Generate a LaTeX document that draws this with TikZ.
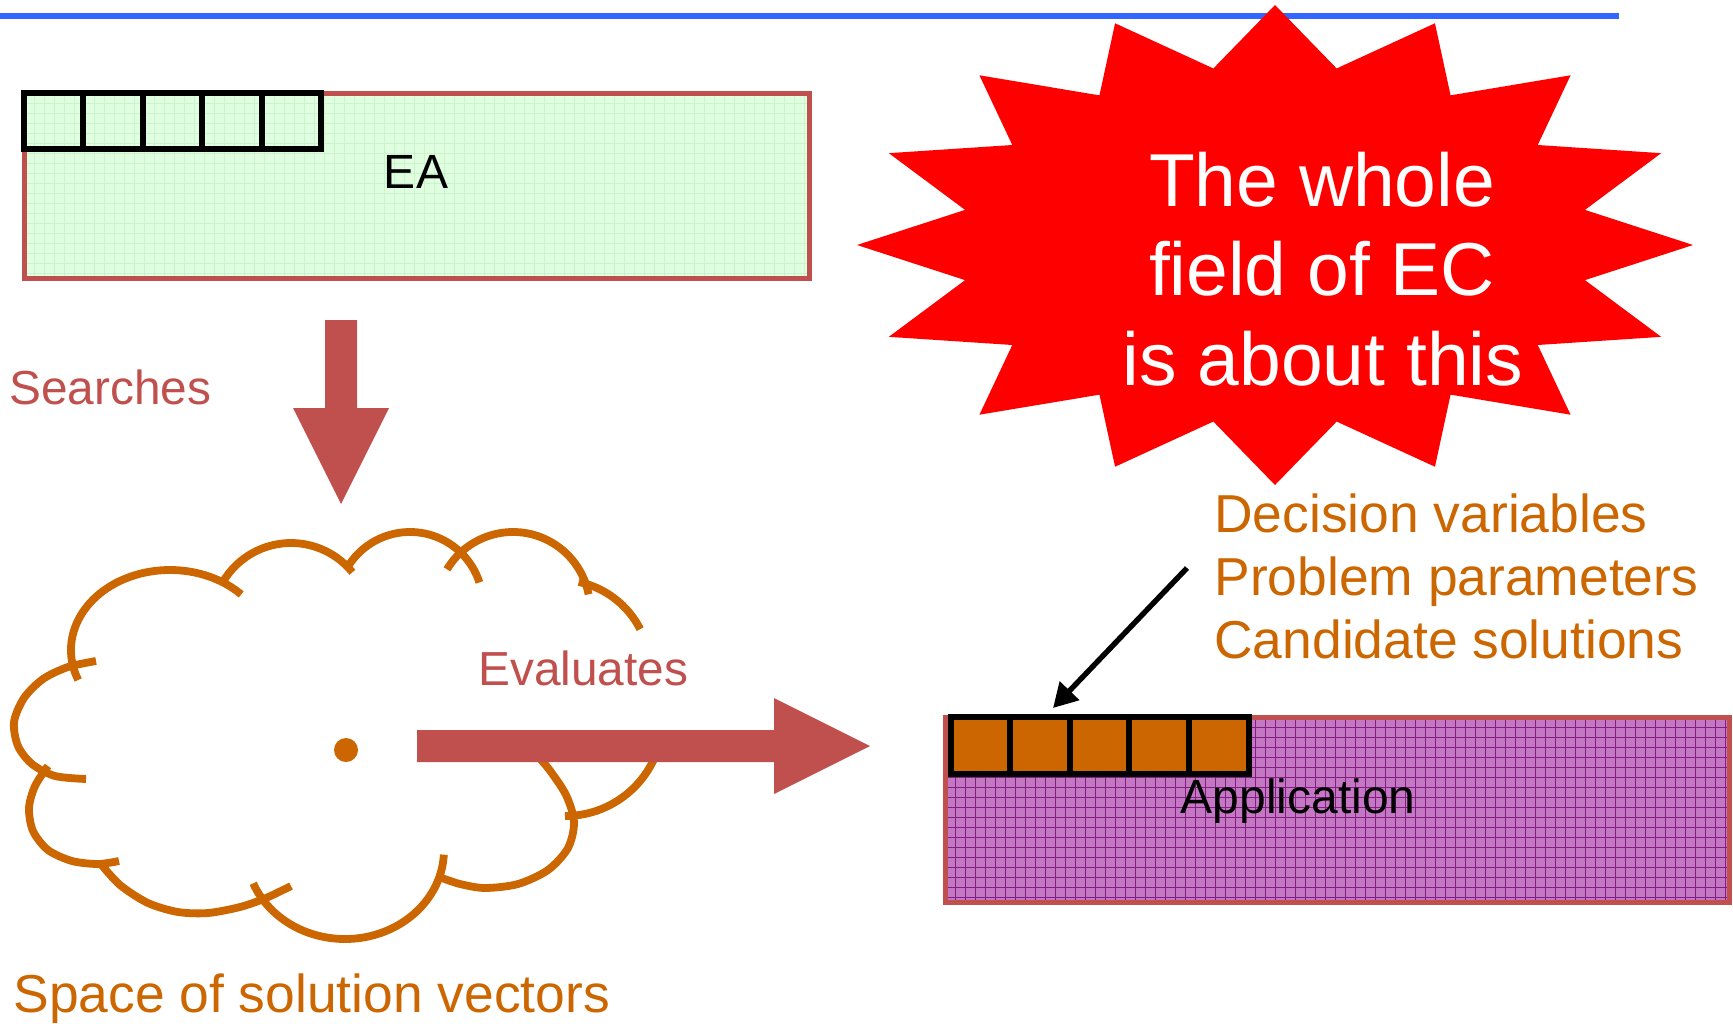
\documentclass[tikz,border=0pt]{standalone}
\usepackage{fontspec}
\setmainfont{Liberation Sans}
\usetikzlibrary{arrows.meta}
\definecolor{rulecol}{RGB}{51,102,255}
\definecolor{brick}{RGB}{192,80,77}
\definecolor{rust}{RGB}{204,102,0}
\definecolor{mint}{RGB}{224,255,224}
\definecolor{mintline}{RGB}{204,244,204}
\definecolor{orchid}{RGB}{196,120,196}
\definecolor{orchidline}{RGB}{130,30,130}
\definecolor{burst}{RGB}{255,0,0}
\tikzset{
  label font/.style={inner sep=0pt, font=\fontsize{#1}{#1}\selectfont},
  redtext/.style={label font=23.9pt, text=brick},
  rusttext/.style={label font=26.7pt, text=rust},
  boxtext/.style={label font=24pt, text=black},
  bursttext/.style={label font=37.5pt, text=white},
  blockarrow/.style={fill=brick},
  framebox/.style={draw=brick, line width=2.5pt},
  cellbox/.style={draw=black, line width=3pt},
  cloudline/.style={draw=rust, line width=3.9pt, line cap=butt},
  pointer/.style={draw=black, line width=2.7pt, -{Triangle[length=12pt,width=13pt]}},
}
% one lobe of the cloud: centre, x radius, y radius, start and end angle
\newcommand\cloudlobe[5]{%
  \draw[cloudline] (#1) ++(#4:#2 and #3)
    arc[start angle=#4, end angle=#5, x radius=#2, y radius=#3];}
\begin{document}
\begin{tikzpicture}[x=0.5pt, y=-0.5pt, line join=miter]
\useasboundingbox (0,0) rectangle (1733,1023);

% top rule
\draw[rulecol, line width=2.7pt] (0,16) -- (1619,16);

% ---- EA box with its five-cell chromosome
\fill[mint] (24,93) rectangle (809,278);
\begin{scope}
  \clip (24,93) rectangle (809,278);
  \foreach \gx in {24,34,...,814} \draw[mintline, line width=0.5pt] (\gx,93) -- (\gx,278);
  \foreach \gy in {93,103,...,283} \draw[mintline, line width=0.5pt] (24,\gy) -- (809,\gy);
\end{scope}
\draw[framebox] (24,93) rectangle (809,278);
\foreach \i in {0,...,4}
  \draw[cellbox] ({24+\i*59.4},93) rectangle ({24+(\i+1)*59.4},149);
\node[boxtext] (ea) at (416,172) {EA};

% ---- "Searches" block arrow
\fill[blockarrow] (325,320) -- (357,320) -- (357,408) -- (389,408)
  -- (341,504) -- (293,408) -- (325,408) -- cycle;
\node[redtext, anchor=base west] (searches) at (9,404) {Searches};

% ---- cloud: space of solution vectors
\cloudlobe{170,650}{49.5pt}{40pt}{202}{44}
\cloudlobe{291,622}{39.5pt}{39.5pt}{149}{39}
\cloudlobe{410,605}{36.5pt}{36.5pt}{148}{18}
\cloudlobe{513,609}{38.5pt}{38.5pt}{149}{11}
\cloudlobe{560,670}{45pt}{45pt}{78}{27}
\cloudlobe{565,718}{49pt}{49pt}{-15}{-90}
\cloudlobe{345,850}{49.5pt}{44.5pt}{-3}{-158}
\draw[cloudline] plot[smooth] coordinates {(530,748) (548,768) (566,795) (574,822) (568,848) (548,870) (518,884) (485,888) (460,884) (442,878)};
\draw[cloudline] plot[smooth] coordinates {(100,863) (120,885) (148,903) (178,912) (208,913) (240,907) (266,898) (291,886)};
\draw[cloudline] plot[smooth] coordinates {(48,766) (35,786) (29,808) (33,831) (48,850) (72,861) (98,864) (119,861)};
\draw[cloudline] plot[smooth] coordinates {(96,661) (68,667) (43,679) (24,698) (14,722) (18,746) (32,764) (55,776) (86,779)};
\fill[rust] (346,750) circle[radius=6pt];
\node[rusttext, anchor=base west] (space) at (13,1012) {Space of solution vectors};

% ---- "Evaluates" block arrow
\fill[blockarrow] (417,730) -- (774,730) -- (774,698) -- (870,746)
  -- (774,794) -- (774,762) -- (417,762) -- cycle;
\node[redtext, anchor=base west] (evaluates) at (478,685) {Evaluates};

% ---- application box with its chromosome
\fill[orchid] (945,717) rectangle (1729,902);
\begin{scope}
  \clip (945,717) rectangle (1729,902);
  \foreach \gx in {945,955,...,1735} \draw[orchidline, line width=0.4pt] (\gx,717) -- (\gx,902);
  \foreach \gy in {717,727,...,907} \draw[orchidline, line width=0.4pt] (945,\gy) -- (1729,\gy);
\end{scope}
\draw[framebox] (945,717) rectangle (1729,902);
\foreach \i in {0,...,4}
  \draw[cellbox, fill=rust] ({950.5+\i*59.6},716.5) rectangle ({950.5+(\i+1)*59.6},773.5);
\node[boxtext, anchor=base] (application) at (1298,813) {Application};

% ---- labels of the chromosome and the pointer to it
\node[rusttext, anchor=base west] (decision) at (1214,532) {Decision variables};
\node[rusttext, anchor=base west] (problem) at (1214,595) {Problem parameters};
\node[rusttext, anchor=base west] (candidate) at (1214,658) {Candidate solutions};
\coordinate (ptr-tail) at (1187,568);
\coordinate (ptr-tip) at (1053,708);
\draw[pointer] (ptr-tail) -- (ptr-tip);

% ---- sixteen-point starburst
\fill[burst] (1693,245)
  \foreach \i in {1,...,31} {
    -- ({1275+(418-102*mod(\i,2))*cos(\i*11.25)},{245-(240-60*mod(\i,2))*sin(\i*11.25)})
  } -- cycle;
\node[bursttext, anchor=base] (burst-a) at (1322,206) {The whole};
\node[bursttext, anchor=base] (burst-b) at (1322,295) {field of EC};
\node[bursttext, anchor=base] (burst-c) at (1323,385) {is about this};
\end{tikzpicture}
\end{document}
